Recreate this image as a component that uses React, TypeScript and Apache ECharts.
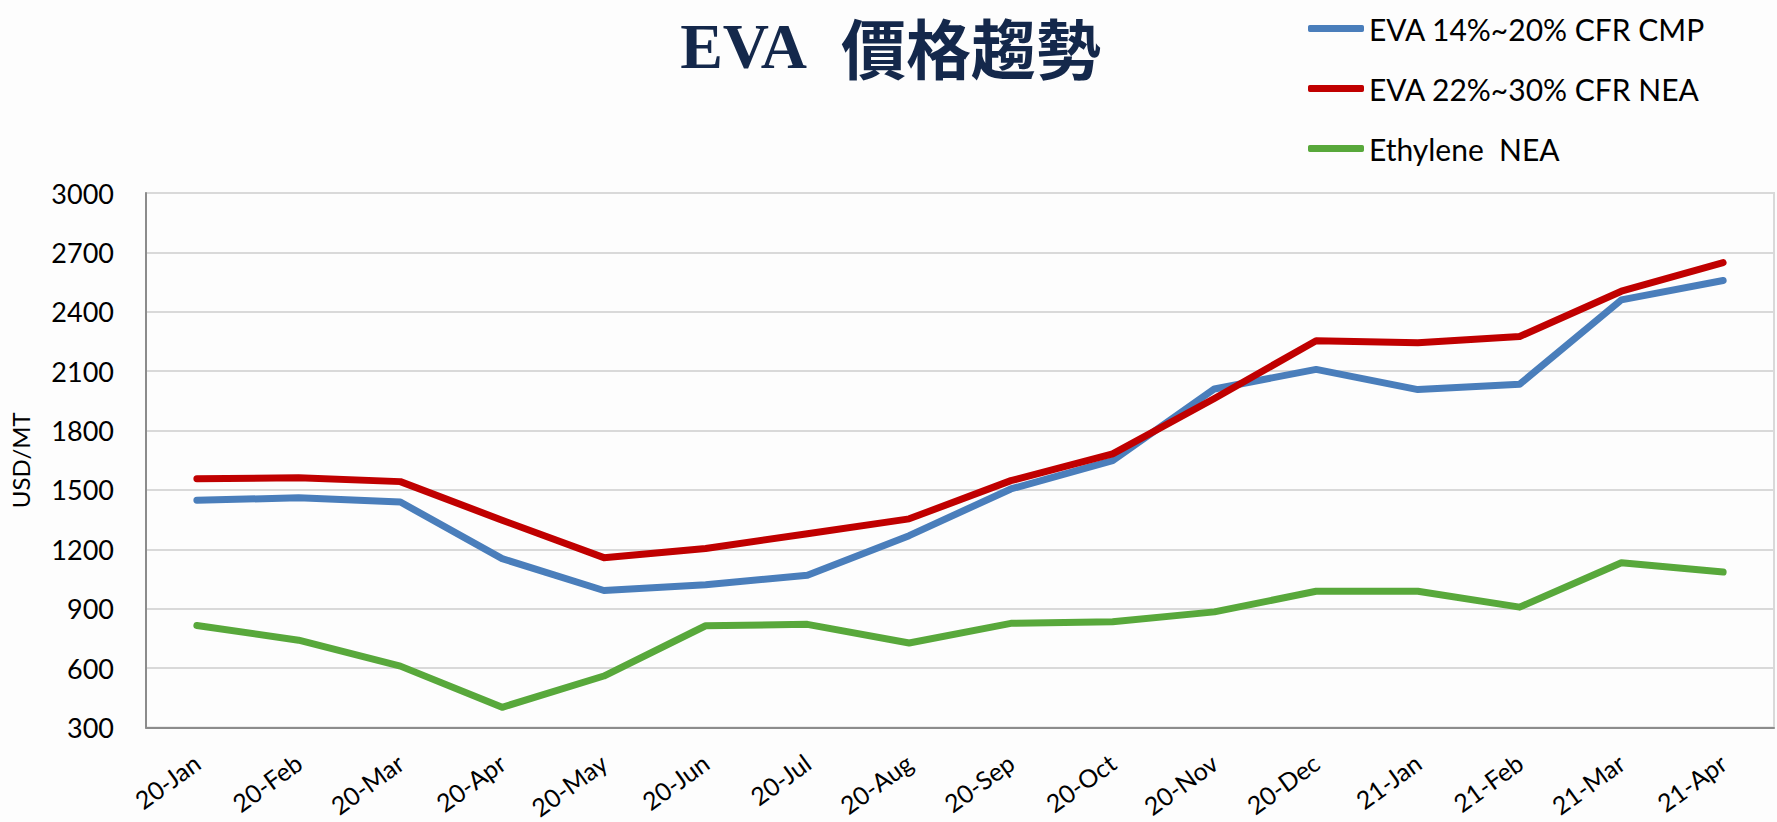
import React, { useEffect, useRef } from "react";
import * as echarts from "echarts";

const categories = [
  "20-Jan", "20-Feb", "20-Mar", "20-Apr", "20-May", "20-Jun", "20-Jul", "20-Aug",
  "20-Sep", "20-Oct", "20-Nov", "20-Dec", "21-Jan", "21-Feb", "21-Mar", "21-Apr",
];

const seriesNames = ["EVA 14%~20% CFR CMP", "EVA 22%~30% CFR NEA", "Ethylene  NEA"];

const evaCmp = [1448, 1460, 1439, 1153, 992, 1021, 1069, 1269, 1505, 1648, 2010, 2109, 2007, 2034, 2460, 2558];
const evaNea = [1557, 1561, 1542, 1347, 1158, 1204, 1279, 1354, 1547, 1682, 1962, 2254, 2244, 2275, 2504, 2648];
const ethylene = [815, 741, 610, 402, 560, 814, 821, 727, 826, 834, 884, 988, 988, 908, 1132, 1085];

const titleLatin = "EVA";
const titleCjk = "價格趨勢";

const yTicks = { min: 300, max: 3000, interval: 300 };
const colors = ["#4A7EBB", "#C00000", "#58A83B"];

export default function App() {
  const ref = useRef<HTMLDivElement>(null);
  useEffect(() => {
    if (!ref.current) return;
    const chart = echarts.init(ref.current, null, { renderer: "svg" });
    const values = [evaCmp, evaNea, ethylene];
    chart.setOption({
      animation: false,
      backgroundColor: "#fdfdfd",
      graphic: [
        {
          type: "text",
          style: {
            text: titleLatin,
            x: 807,
            y: 46,
            textAlign: "right",
            textVerticalAlign: "middle",
            font: "bold 64px 'Liberation Serif'",
            fill: "#14284B",
          },
        },
        {
          type: "text",
          style: {
            text: titleCjk,
            x: 841,
            y: 46,
            textAlign: "left",
            textVerticalAlign: "middle",
            font: "bold 65px 'Noto Sans CJK TC'",
            fill: "#14284B",
          },
        },
      ],
      legend: {
        orient: "vertical",
        left: 1303,
        top: 6,
        itemWidth: 56,
        itemHeight: 7,
        itemGap: 25,
        icon: "roundRect",
        data: seriesNames,
        textStyle: {
          fontFamily: "Lato",
          fontSize: 30,
          color: "#000",
          lineHeight: 35,
        },
      },
      grid: {
        left: 144,
        right: 3,
        top: 193,
        bottom: 91,
        show: true,
        borderColor: "#d9d9d9",
        borderWidth: 2,
      },
      xAxis: {
        type: "category",
        data: categories,
        boundaryGap: true,
        axisTick: { show: false },
        axisLine: { lineStyle: { color: "#8c8c8c", width: 2 } },
        axisLabel: {
          interval: 0,
          rotate: 36,
          margin: 32,
          fontFamily: "Lato",
          fontSize: 25,
          color: "#000",
        },
      },
      yAxis: {
        type: "value",
        min: yTicks.min,
        max: yTicks.max,
        interval: yTicks.interval,
        name: "USD/MT",
        nameLocation: "middle",
        nameRotate: 90,
        nameGap: 114,
        nameTextStyle: { fontFamily: "Lato", fontSize: 24, color: "#000" },
        axisLine: { show: true, lineStyle: { color: "#8c8c8c", width: 2 } },
        axisTick: { show: false },
        axisLabel: {
          margin: 32,
          fontFamily: "Lato",
          fontSize: 27,
          color: "#000",
          formatter: (v: number) => String(v),
        },
        splitLine: { lineStyle: { color: "#d9d9d9", width: 2 } },
      },
      series: seriesNames.map((name, i) => ({
        name,
        type: "line",
        data: values[i],
        showSymbol: false,
        symbol: "none",
        color: colors[i],
        lineStyle: { width: 7, color: colors[i], cap: "round", join: "round" },
      })),
    });
    return () => chart.dispose();
  }, []);
  return (
    <div
      ref={ref}
      style={{ position: "absolute", left: 0, top: 0, width: 1777, height: 822 }}
    />
  );
}
